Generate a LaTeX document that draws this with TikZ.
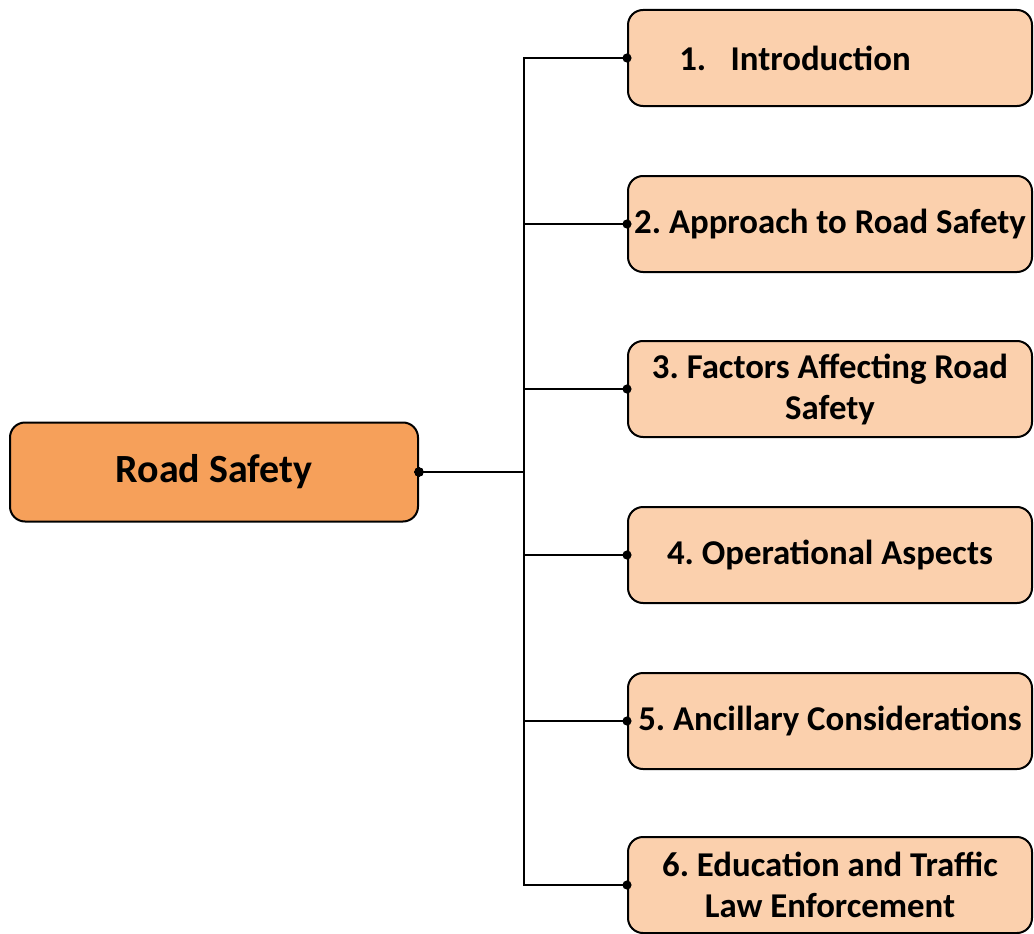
\documentclass[tikz,border=0pt]{standalone}
\usepackage{fontspec}
\setmainfont{Carlito}
\usetikzlibrary{arrows.meta}
\definecolor{rootfill}{HTML}{F6A05A}
\definecolor{topicfill}{HTML}{FBD0AD}
\tikzset{
  rootbox/.style={draw,line width=2pt,rounded corners=15pt,fill=rootfill,minimum width=408pt,minimum height=99pt,font=\bfseries\fontsize{40}{45}\selectfont\frenchspacing},
  topicbox/.style={draw,line width=2pt,rounded corners=15pt,fill=topicfill,minimum width=404pt,minimum height=96pt,inner sep=0pt,align=center,font=\bfseries\fontsize{34.8}{41}\selectfont\frenchspacing},
  link/.style={line width=2pt,{Circle[length=9pt]}-{Circle[length=9pt]},shorten <=-4.5pt,shorten >=-4.5pt}
}
\begin{document}
\begin{tikzpicture}[x=1pt,y=-1pt]
        \useasboundingbox (0,0) rectangle (1034,934);
        \node[rootbox] (root) at (214,472) {Road Safety};
        \foreach \i/\y/\name in {1/58/{1.\hspace{0.7em}Introduction\hspace*{70pt}},2/224/{2. Approach to Road Safety},3/389/{3. Factors Affecting Road\\Safety},4/555/{4. Operational Aspects},5/721/{5. Ancillary Considerations},6/885/{6. Education and Traffic\\Law Enforcement}} {
            \node[topicbox] (t\i) at (830,\y) {\name};
            \draw[link] (root.east) -- ++(105,0) |- (t\i.west);
        }
    \end{tikzpicture}
\end{document}
